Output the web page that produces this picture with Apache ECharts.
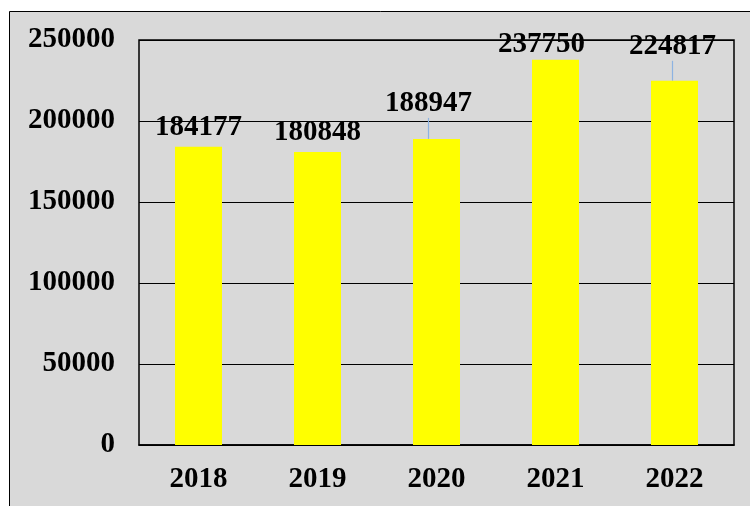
<!DOCTYPE html>
<html>
<head>
<meta charset="utf-8">
<script src="https://cdn.jsdelivr.net/npm/echarts@6/dist/echarts.min.js"></script>
<style>
html,body{margin:0;padding:0;background:#fff;}
#chart{width:750px;height:506px;}
</style>
</head>
<body>
<div id="chart"></div>
<script>
var categories = ['2018', '2019', '2020', '2021', '2022'];
var values = [184177, 180848, 188947, 237750, 224817];
var yTicks = [0, 50000, 100000, 150000, 200000, 250000];

// label shifts (pixels) applied to each data label, in category order
var labelShiftX = [0, 0, -8, -14, -2];
var labelShiftY = [0, 0, -16, 4, -15];
var leaderShown = [false, false, true, false, true];

var font = "'Liberation Serif', 'Times New Roman', serif";
var chart = echarts.init(document.getElementById('chart'));
chart.setOption({
  animation: false,
  backgroundColor: 'transparent',
  graphic: [{
    type: 'rect', z: -10, silent: true,
    shape: {x: 9.5, y: 11.5, width: 800, height: 600},
    style: {fill: '#d9d9d9', stroke: '#000', lineWidth: 1}
  }],
  grid: {left: 139, top: 40, right: 16, bottom: 61, show: true,
         borderColor: '#000', borderWidth: 1.5, backgroundColor: 'transparent'},
  xAxis: {
    type: 'category', data: categories,
    axisTick: {show: false},
    axisLine: {lineStyle: {color: '#000', width: 1.5}},
    axisLabel: {color: '#000', fontFamily: font, fontWeight: 'bold', fontSize: 29, margin: 20}
  },
  yAxis: {
    type: 'value', min: yTicks[0], max: yTicks[yTicks.length - 1], interval: yTicks[1] - yTicks[0],
    axisLine: {show: false}, axisTick: {show: false},
    splitLine: {lineStyle: {color: '#000', width: 1.2}},
    axisLabel: {color: '#000', fontFamily: font, fontWeight: 'bold', fontSize: 29, margin: 24,
                formatter: function (v) { return String(v); }}
  },
  series: [{
    type: 'bar',
    data: values.map(function (v, i) {
      return {value: v, labelLine: {show: leaderShown[i]}};
    }),
    barWidth: 47,
    itemStyle: {color: '#ffff00'},
    label: {show: true, position: 'top', distance: 5, color: '#000',
            fontFamily: font, fontWeight: 'bold', fontSize: 29},
    labelLine: {show: true, lineStyle: {color: '#8db3e2', width: 1.2}},
    labelLayout: function (p) {
      return {dx: labelShiftX[p.dataIndex], dy: labelShiftY[p.dataIndex]};
    }
  }]
});
</script>
</body>
</html>
